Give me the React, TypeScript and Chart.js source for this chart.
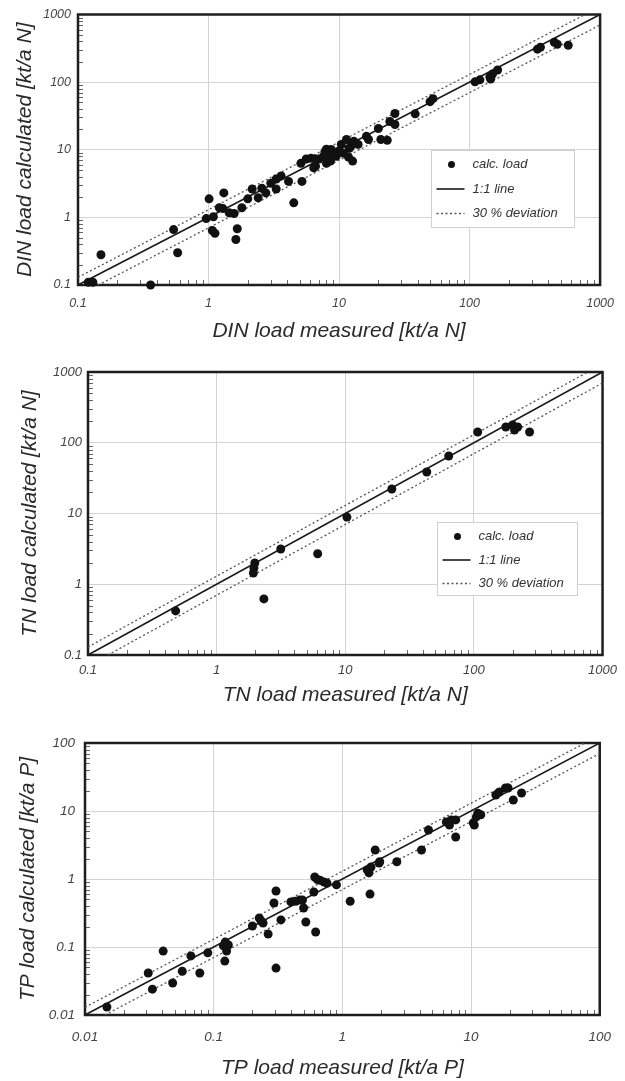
import { useEffect, useRef } from 'react';
import { Chart, registerables } from 'chart.js';

Chart.register(...registerables);

// Decade ticks of each log-log panel
const DIN_TICKS = [0.1, 1, 10, 100, 1000];
const TN_TICKS = [0.1, 1, 10, 100, 1000];
const TP_TICKS = [0.01, 0.1, 1, 10, 100];

// DIN: measured vs. calculated load [kt/a N]
const DIN_MEASURED = [
  0.12, 0.13, 0.15, 0.36, 0.54, 0.58, 1.01, 0.96, 1.07, 1.12, 1.09, 1.31, 1.21, 1.29, 1.44, 1.57,
  1.66, 1.62, 1.8, 2.0, 2.16, 2.4, 2.56, 2.75, 3.0, 3.3, 3.3, 3.6, 4.1, 4.5, 5.2, 5.1, 5.6, 6.1,
  6.6, 6.4, 7.0, 7.6, 8.3, 6.6, 8.0, 8.7, 7.8, 10.4, 11.4, 12.3, 13.0, 10.8, 11.8, 12.7, 9.9, 9.5,
  16.2, 20, 20.9, 23.4, 24.5, 26.8, 38.3, 49.8, 52.5, 110, 120, 143, 150, 164, 145, 331, 349, 446,
  470, 570, 8.0, 8.6, 16.8, 26.8, 14.0, 9.0, 12.0,
];
const DIN_CALCULATED = [
  0.11, 0.11, 0.28, 0.1, 0.66, 0.3, 1.88, 0.96, 0.64, 0.58, 1.02, 2.3, 1.39, 1.35, 1.17, 1.14,
  0.68, 0.47, 1.39, 1.88, 2.63, 1.95, 2.7, 2.3, 3.2, 2.63, 3.7, 4.1, 3.4, 1.64, 3.4, 6.3, 7.3, 7.5,
  7.3, 5.4, 7.3, 8.0, 8.6, 5.7, 6.3, 10.1, 9.4, 12.0, 14.2, 11.2, 13.3, 8.9, 7.8, 6.8, 9.5, 8.0,
  15.8, 20.6, 14.2, 13.8, 26.2, 34.3, 34, 51.4, 56.9, 101, 108, 119, 132, 151, 111, 307, 328, 389,
  363, 351, 10.2, 6.8, 14.2, 23.6, 12.0, 8.8, 10.5,
];

// TN: measured vs. calculated load [kt/a N]
const TN_MEASURED = [0.48, 1.98, 1.95, 1.93, 2.33, 3.15, 6.1, 10.3, 23, 43, 63.7, 107, 177, 207, 219, 200, 271];
const TN_CALCULATED = [0.42, 2.0, 1.7, 1.44, 0.62, 3.15, 2.7, 8.9, 22.2, 38.6, 65, 142, 167, 151, 167, 178, 142];

// TP: measured vs. calculated load [kt/a P]
const TP_MEASURED = [
  0.0148, 0.031, 0.0334, 0.0405, 0.048, 0.057, 0.0665, 0.078, 0.09, 0.122, 0.126, 0.123, 0.13, 0.119,
  0.2, 0.226, 0.242, 0.234, 0.265, 0.294, 0.305, 0.333, 0.305, 0.398, 0.434, 0.466, 0.49, 0.5, 0.52,
  0.61, 0.6, 0.62, 0.64, 0.67, 0.72, 0.76, 0.9, 1.15, 1.56, 1.61, 1.67, 1.8, 1.93, 1.95, 1.64, 2.65,
  4.12, 4.67, 6.42, 6.8, 7.0, 7.6, 7.6, 10.4, 11, 11.3, 11.9, 10.6, 15.6, 16.5, 18.5, 19.4, 21.3, 24.7,
];
const TP_CALCULATED = [
  0.0131, 0.0415, 0.024, 0.087, 0.0296, 0.044, 0.074, 0.0415, 0.082, 0.062, 0.087, 0.118, 0.107, 0.104,
  0.204, 0.267, 0.225, 0.241, 0.155, 0.444, 0.667, 0.25, 0.049, 0.46, 0.47, 0.49, 0.49, 0.375, 0.233,
  1.07, 0.644, 0.166, 0.98, 0.96, 0.9, 0.87, 0.82, 0.47, 1.36, 1.23, 1.5, 2.67, 1.72, 1.79, 0.6, 1.79,
  2.67, 5.26, 6.9, 6.2, 7.4, 7.4, 4.15, 6.7, 8.2, 9.3, 8.8, 6.2, 17.2, 18.9, 21.8, 21.8, 14.5, 18.4,
];

// Relative band drawn around the 1:1 line
const DEVIATION = 0.3;

const FONT = 'Liberation Sans';

type PanelSpec = {
  top: number;
  height: number;
  padTop: number;
  padRight: number;
  yWidth: number;
  xHeight: number;
  xTickPad: number;
  yTickPad: number;
  tickSize: number;
  xTitlePad: number;
  yTitlePad: number;
  xTitle: string;
  yTitle: string;
  ticks: number[];
  measured: number[];
  calculated: number[];
  legend: null | { fx: number; fy: number; w: number; h: number; first: number; gap: number };
};

const PANELS: PanelSpec[] = [
  {
    top: 0, height: 350, padTop: 12, padRight: 22, yWidth: 78, xHeight: 65,
    xTickPad: 11, yTickPad: 7, tickSize: 12.5, xTitlePad: 6.5, yTitlePad: 12.5,
    xTitle: 'DIN load measured [kt/a N]', yTitle: 'DIN load calculated [kt/a N]',
    ticks: DIN_TICKS, measured: DIN_MEASURED, calculated: DIN_CALCULATED,
    legend: { fx: 0.676, fy: 0.502, w: 143, h: 77, first: 14, gap: 24.5 },
  },
  {
    top: 350, height: 362, padTop: 22, padRight: 22, yWidth: 88, xHeight: 57,
    xTickPad: 8, yTickPad: 6, tickSize: 13, xTitlePad: 4.5, yTitlePad: 17.5,
    xTitle: 'TN load measured [kt/a N]', yTitle: 'TN load calculated [kt/a N]',
    ticks: TN_TICKS, measured: TN_MEASURED, calculated: TN_CALCULATED,
    legend: { fx: 0.678, fy: 0.53, w: 140, h: 73, first: 14, gap: 23.5 },
  },
  {
    top: 712, height: 369, padTop: 31, padRight: 20, yWidth: 85, xHeight: 66,
    xTickPad: 14, yTickPad: 10, tickSize: 13.5, xTitlePad: 0.5, yTitlePad: 15.5,
    xTitle: 'TP load measured [kt/a P]', yTitle: 'TP load calculated [kt/a P]',
    ticks: TP_TICKS, measured: TP_MEASURED, calculated: TP_CALCULATED,
    legend: null,
  },
];

function minorValues(min: number, max: number): number[] {
  const out: number[] = [];
  for (let d = min; d < max * 0.999; d *= 10) {
    for (let m = 2; m <= 9; m++) out.push(m * d);
  }
  return out;
}

// Frame around the plot area plus short minor ticks on the bottom and left edges
const framePlugin = {
  id: 'logFrame',
  beforeDatasetsDraw(chart: any) {
    const { ctx, chartArea: a, scales } = chart;
    ctx.save();
    ctx.strokeStyle = '#666';
    ctx.lineWidth = 1;
    ctx.beginPath();
    for (const v of minorValues(scales.x.min, scales.x.max)) {
      const px = Math.round(scales.x.getPixelForValue(v)) + 0.5;
      ctx.moveTo(px, a.bottom);
      ctx.lineTo(px, a.bottom - 5);
    }
    for (const v of minorValues(scales.y.min, scales.y.max)) {
      const py = Math.round(scales.y.getPixelForValue(v)) + 0.5;
      ctx.moveTo(a.left, py);
      ctx.lineTo(a.left + 5, py);
    }
    ctx.stroke();
    ctx.strokeStyle = '#1e1e1e';
    ctx.lineWidth = 2.5;
    ctx.strokeRect(a.left, a.top, a.right - a.left, a.bottom - a.top);
    ctx.restore();
  },
};

// Legend box placed inside the plot area
const insetLegend = {
  id: 'insetLegend',
  afterDraw(chart: any, _args: any, opts: any) {
    if (!opts || !opts.box) return;
    const b = opts.box;
    const { ctx, chartArea: a } = chart;
    const x0 = Math.round(a.left + b.fx * (a.right - a.left)) + 0.5;
    const y0 = Math.round(a.top + b.fy * (a.bottom - a.top)) + 0.5;
    ctx.save();
    ctx.fillStyle = '#ffffff';
    ctx.fillRect(x0, y0, b.w, b.h);
    ctx.strokeStyle = '#d0d0d0';
    ctx.lineWidth = 1;
    ctx.strokeRect(x0, y0, b.w, b.h);
    const items = chart.data.datasets.filter((d: any) => d.label);
    items.forEach((ds: any, i: number) => {
      const cy = y0 + b.first + i * b.gap;
      if (ds.showLine) {
        ctx.strokeStyle = ds.borderColor;
        ctx.lineWidth = ds.borderWidth;
        ctx.setLineDash(ds.borderDash || []);
        ctx.beginPath();
        ctx.moveTo(x0 + 5, cy);
        ctx.lineTo(x0 + 33, cy);
        ctx.stroke();
        ctx.setLineDash([]);
      } else {
        ctx.fillStyle = ds.backgroundColor;
        ctx.beginPath();
        ctx.arc(x0 + 20, cy, 3.5, 0, Math.PI * 2);
        ctx.fill();
      }
      ctx.fillStyle = '#333';
      ctx.font = `italic 13px "${FONT}"`;
      ctx.textBaseline = 'middle';
      ctx.textAlign = 'left';
      ctx.fillText(ds.label, x0 + 41, cy);
    });
    ctx.restore();
  },
};

function LoadPanel({ spec }: { spec: PanelSpec }) {
  const ref = useRef<HTMLCanvasElement | null>(null);

  useEffect(() => {
    if (!ref.current) return;
    const lo = spec.ticks[0];
    const hi = spec.ticks[spec.ticks.length - 1];
    const points = spec.measured.map((m, i) => ({ x: m, y: spec.calculated[i] }));
    const lineData = (f: number) => [
      { x: lo, y: lo * f },
      { x: hi, y: hi * f },
    ];
    const tickFont = { family: FONT, style: 'italic' as const, size: spec.tickSize };
    const titleFont = { family: FONT, style: 'italic' as const, size: 21 };
    const axisTicks = (s: any) => {
      s.ticks = spec.ticks.map((v) => ({ value: v }));
    };

    const chart = new Chart(ref.current, {
      type: 'scatter',
      data: {
        datasets: [
          {
            label: 'calc. load',
            data: points,
            backgroundColor: '#111',
            borderWidth: 0,
            pointRadius: 4.5,
            showLine: false,
            clip: false,
          } as any,
          {
            label: '1:1 line',
            data: lineData(1),
            showLine: true,
            borderColor: '#1a1a1a',
            borderWidth: 1.6,
            pointRadius: 0,
          },
          {
            label: '30 % deviation',
            data: lineData(1 + DEVIATION),
            showLine: true,
            borderColor: '#555',
            borderWidth: 1.3,
            borderDash: [2, 2.5],
            pointRadius: 0,
          },
          {
            label: '',
            data: lineData(1 - DEVIATION),
            showLine: true,
            borderColor: '#555',
            borderWidth: 1.3,
            borderDash: [2, 2.5],
            pointRadius: 0,
          },
        ],
      },
      options: {
        animation: false,
        responsive: false,
        devicePixelRatio: 1,
        events: [],
        layout: { padding: { top: spec.padTop, right: spec.padRight, left: 0, bottom: 0 } },
        plugins: {
          legend: { display: false },
          tooltip: { enabled: false },
          insetLegend: { box: spec.legend },
        } as any,
        scales: {
          x: {
            type: 'logarithmic',
            min: lo,
            max: hi,
            afterBuildTicks: axisTicks,
            afterFit: (s: any) => {
              s.height = spec.xHeight;
            },
            grid: { color: '#d3d3d3', lineWidth: 1, drawTicks: false },
            border: { display: false },
            ticks: {
              padding: spec.xTickPad,
              font: tickFont,
              color: '#444',
              maxRotation: 0,
              autoSkip: false,
              callback: (_v: any, i: number) => String(spec.ticks[i]),
            },
            title: {
              display: true,
              text: spec.xTitle,
              font: titleFont,
              color: '#2a2a2a',
              padding: { top: 0, bottom: spec.xTitlePad },
            },
          },
          y: {
            type: 'logarithmic',
            min: lo,
            max: hi,
            afterBuildTicks: axisTicks,
            afterFit: (s: any) => {
              s.width = spec.yWidth;
            },
            grid: { color: '#d3d3d3', lineWidth: 1, drawTicks: false },
            border: { display: false },
            ticks: {
              padding: spec.yTickPad,
              font: tickFont,
              color: '#444',
              autoSkip: false,
              callback: (_v: any, i: number) => String(spec.ticks[i]),
            },
            title: {
              display: true,
              text: spec.yTitle,
              font: titleFont,
              color: '#2a2a2a',
              padding: { top: spec.yTitlePad, bottom: 0 },
            },
          },
        },
      },
      plugins: [framePlugin, insetLegend],
    });
    return () => chart.destroy();
  }, [spec]);

  return (
    <canvas
      ref={ref}
      width={625}
      height={spec.height}
      style={{ position: 'absolute', left: 0, top: spec.top, display: 'block' }}
    />
  );
}

export default function App() {
  return (
    <div style={{ position: 'absolute', left: 0, top: 0, width: 625, height: 1081, background: '#fff' }}>
      {PANELS.map((p) => (
        <LoadPanel key={p.top} spec={p} />
      ))}
    </div>
  );
}
